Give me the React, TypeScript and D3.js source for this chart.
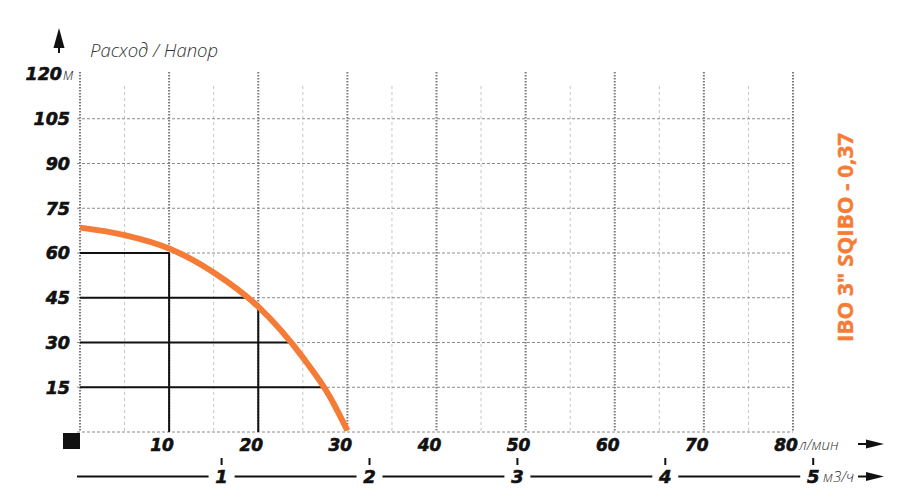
import React from 'react'
import * as d3 from 'd3'

// pump curve: flow (л/мин) vs head (м)
const flowValues = [0, 5, 10, 15, 20, 25, 28, 30]
const headValues = [68.5, 66, 61.5, 53.5, 42, 25, 12, 0.5]

const flowTicks = [10, 20, 30, 40, 50, 60, 70, 80]
const minorFlowTicks = [5, 15, 25, 35, 45, 55, 65, 75]
const headTicks = [15, 30, 45, 60, 75, 90, 105, 120]
const m3Ticks = [1, 2, 3, 4, 5]

// black helper lines
const helperHeads = [60, 45, 30, 15]
const helperHeadEnds = [10, 18.5, 23.5, 27.2]
const helperFlows = [10, 20]
const helperFlowTops = [60, 41.5]

const title = 'IBO 3" SQIBO - 0,37'
const ORANGE = '#f47c36'
const NUM_FONT = '"DejaVu Sans", Verdana, sans-serif'
const TXT_FONT = '"Open Sans", "Noto Sans", sans-serif'

export default function App() {
  const width = 915
  const height = 501

  const x = d3.scaleLinear().domain([0, 80]).range([80, 793])
  const y = d3.scaleLinear().domain([0, 120]).range([432, 74])
  const xm3 = d3.scaleLinear().domain([0, 5]).range([73.7, 813.2])

  const curve = d3.line<number>()
    .x((_, i) => x(flowValues[i]))
    .y(d => y(d))
    .curve(d3.curveMonotoneX)(headValues)

  const yTop = y(120) - 2
  const axis2Y = 476.5

  // gaps in the m3/h line around labels
  const segs: [number, number][] = []
  let start = 77
  m3Ticks.forEach(t => {
    segs.push([start, xm3(t) - 13])
    start = xm3(t) + 13
  })

  const numStyle = {
    fontFamily: NUM_FONT, fontWeight: 'bold' as const, fontStyle: 'italic' as const,
    fill: '#111', stroke: '#111', strokeWidth: 0.6
  }

  return (
    <svg width={width} height={height} style={{ position: 'absolute', left: 0, top: 0, background: '#fff' }}>
      {/* minor vertical grid */}
      {minorFlowTicks.map(t => (
        <line key={'mv' + t} x1={x(t)} x2={x(t)} y1={y(116)} y2={y(0)}
          stroke="#c4c4c4" strokeWidth={1} strokeDasharray="3,3" />
      ))}
      {/* horizontal grid */}
      {[0, ...headTicks.slice(0, -1)].map(t => (
        <line key={'hg' + t} x1={77} x2={x(80)} y1={y(t)} y2={y(t)}
          stroke="#8a8a8a" strokeWidth={1} strokeDasharray="3,2" />
      ))}
      {/* major vertical grid */}
      {[0, ...flowTicks].map(t => (
        <line key={'v' + t} x1={x(t)} x2={x(t)} y1={yTop} y2={y(0)}
          stroke="#7a7a7a" strokeWidth={2} strokeDasharray="1.5,1.5" />
      ))}

      {/* helper lines */}
      {helperHeads.map((h, i) => (
        <line key={'hh' + h} x1={x(0)} x2={x(helperHeadEnds[i])} y1={y(h)} y2={y(h)}
          stroke="#111" strokeWidth={2} />
      ))}
      {helperFlows.map((f, i) => (
        <line key={'hf' + f} x1={x(f)} x2={x(f)} y1={y(0)} y2={y(helperFlowTops[i])}
          stroke="#111" strokeWidth={2} />
      ))}

      {/* pump curve */}
      <path d={curve || ''} fill="none" stroke={ORANGE} strokeWidth={6} />

      {/* y axis labels */}
      {headTicks.map(t => (
        <text key={'yl' + t} x={t === 120 ? 62 : 70} y={y(t)} dy="0.36em" textAnchor="end"
          fontSize={17.5} {...numStyle}>{t}</text>
      ))}
      <text x={63} y={y(120) + 6} fontFamily={TXT_FONT} fontStyle="italic" fontWeight={300}
        fontSize={16} fill="#333">м</text>

      {/* y axis arrow and title */}
      <path d="M59,28 L64.5,48 L53.5,48 Z" fill="#111" />
      <rect x={58} y={46} width={2} height={7} fill="#111" />
      <text x={90} y={57} fontFamily={TXT_FONT} fontStyle="italic" fontWeight={300}
        fontSize={18.5} fill="#333">Расход / Напор</text>

      {/* origin square */}
      <rect x={63} y={433} width={17} height={16} fill="#111" />

      {/* x axis (л/мин) */}
      {flowTicks.map(t => (
        <text key={'xl' + t} x={x(t) - 7} y={445} dy="0.36em" textAnchor="middle"
          fontSize={17} {...numStyle}>{t}</text>
      ))}
      <text x={799} y={450} fontFamily={TXT_FONT} fontStyle="italic" fontWeight={300}
        fontSize={15} fill="#333">л/мин</text>
      <line x1={858} x2={868} y1={444} y2={444} stroke="#111" strokeWidth={2} />
      <path d="M866,439.5 L884,444 L866,448.5 Z" fill="#111" />

      {/* second axis (м3/ч) */}
      {segs.map((s, i) => (
        <line key={'sg' + i} x1={s[0]} x2={s[1]} y1={axis2Y} y2={axis2Y} stroke="#111" strokeWidth={2} />
      ))}
      {m3Ticks.map(t => (
        <g key={'m3' + t}>
          <line x1={xm3(t)} x2={xm3(t)} y1={458} y2={465} stroke="#111" strokeWidth={2} />
          <text x={xm3(t)} y={axis2Y} dy="0.36em" textAnchor="middle"
            fontSize={18} {...numStyle}>{t}</text>
        </g>
      ))}
      <text x={823} y={482} fontFamily={TXT_FONT} fontStyle="italic" fontWeight={300}
        fontSize={15} fill="#333">м3/ч</text>
      <line x1={858} x2={868} y1={476.5} y2={476.5} stroke="#111" strokeWidth={2} />
      <path d="M866,472 L884,476.5 L866,481 Z" fill="#111" />

      {/* model title */}
      <text transform={`translate(853,237.5) rotate(-90)`} textAnchor="middle"
        fontFamily={TXT_FONT} fontWeight="bold" fontSize={21} fill={ORANGE}
        stroke={ORANGE} strokeWidth={0.4}
        textLength={209} lengthAdjust="spacingAndGlyphs">{title}</text>
    </svg>
  )
}
